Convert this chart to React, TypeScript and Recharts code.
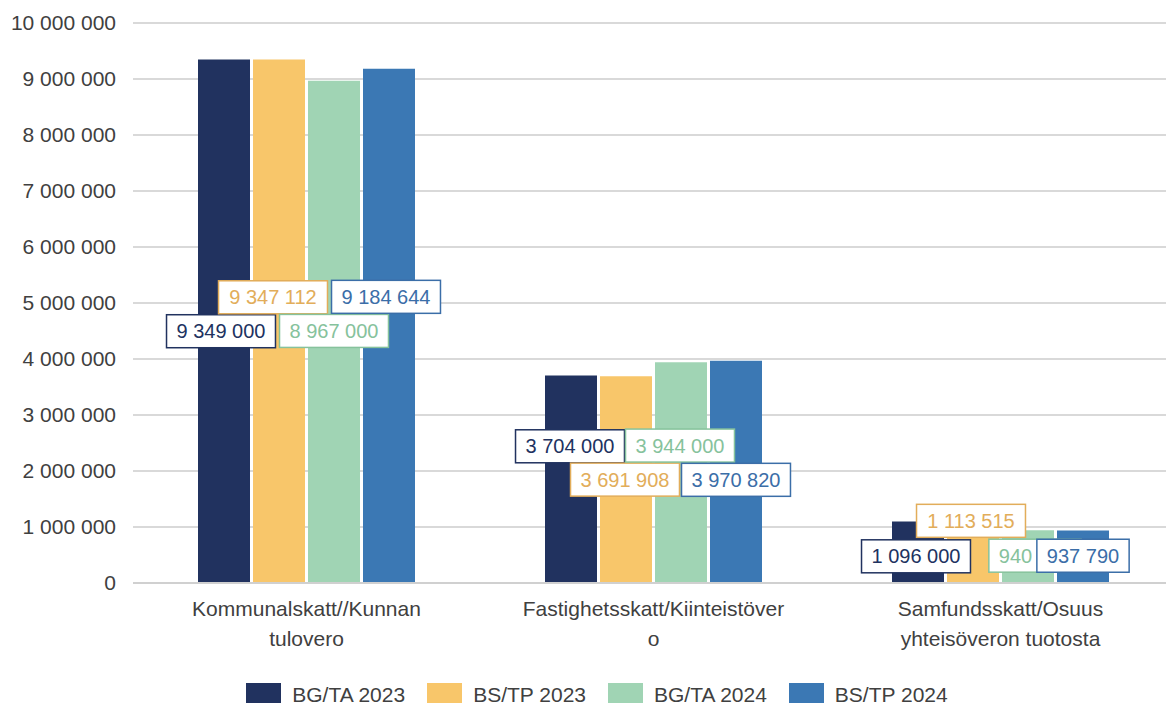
import { Bar, BarChart, CartesianGrid, LabelList, Legend, XAxis, YAxis } from "recharts";

const categories = [
  "Kommunalskatt//Kunnan\ntulovero",
  "Fastighetsskatt/Kiinteistöver\no",
  "Samfundsskatt/Osuus\nyhteisöveron tuotosta",
];
const bgta2023 = [9349000, 3704000, 1096000];
const bstp2023 = [9347112, 3691908, 1113515];
const bgta2024 = [8967000, 3944000, 940000];
const bstp2024 = [9184644, 3970820, 937790];
const yTicks = [0, 1000000, 2000000, 3000000, 4000000, 5000000, 6000000, 7000000, 8000000, 9000000, 10000000];

const series = [
  { key: "bgta2023", name: "BG/TA 2023", color: "#21325f", text: "#21325f" },
  { key: "bstp2023", name: "BS/TP 2023", color: "#f8c66a", text: "#e2ad5a" },
  { key: "bgta2024", name: "BG/TA 2024", color: "#a0d4b4", text: "#86c29c" },
  { key: "bstp2024", name: "BS/TP 2024", color: "#3b78b4", text: "#3b6ea8" },
];

// hand placement of the data label boxes (dx, dy from bar centre), like the original
const labelNudge: Record<string, [number, number][]> = {
  bgta2023: [[-3, 10], [-1, -33], [-2, 4]],
  bstp2023: [[-6, -24], [-1, 0], [-2, -31]],
  bgta2024: [[0, -1], [-1, -27], [7, -1]],
  bstp2024: [[-3, -29], [0, 8], [0, -1]],
};

const data = categories.map((name, i) => ({
  name,
  bgta2023: bgta2023[i],
  bstp2023: bstp2023[i],
  bgta2024: bgta2024[i],
  bstp2024: bstp2024[i],
}));

const FONT = "'Liberation Sans', Arial, sans-serif";
const fmt = (v: number) => String(Math.round(v)).replace(/\B(?=(\d{3})+(?!\d))/g, " ");

function BoxLabel(props: any, key: string, color: string) {
  const { x, y, width, height, value, index } = props;
  const txt = fmt(value);
  const digits = txt.replace(/ /g, "").length;
  const spaces = txt.length - digits;
  const fs = 20;
  const w = digits * 0.556 * fs + spaces * 0.278 * fs + 20;
  const h = 33;
  const [dx, dy] = labelNudge[key][index] || [0, 0];
  const cx = x + width / 2 + dx;
  const cy = y + height / 2 + dy;
  return (
    <g>
      <rect x={cx - w / 2} y={cy - h / 2} width={w} height={h} fill="#fff" stroke={color} strokeWidth={1.5} />
      <text x={cx} y={cy + 7} textAnchor="middle" fontSize={fs} fontFamily={FONT} fill={color}>
        {txt}
      </text>
    </g>
  );
}

function CatTick(props: any) {
  const { x, y, payload } = props;
  const lines = String(payload.value).split("\n");
  return (
    <g>
      {lines.map((l, i) => (
        <text key={i} x={x} y={y + 25 + i * 30} textAnchor="middle" fontSize={21} fontFamily={FONT} fill="#404040">
          {l}
        </text>
      ))}
    </g>
  );
}

function LegendBox() {
  return (
    <div style={{ display: "flex", justifyContent: "center", alignItems: "center", gap: 22, fontFamily: FONT, fontSize: 21, lineHeight: "24px", color: "#404040", paddingTop: 20, paddingLeft: 20 }}>
      {series.map((s) => (
        <div key={s.key} style={{ display: "flex", alignItems: "center", gap: 11 }}>
          <span style={{ display: "inline-block", width: 35, height: 24, background: s.color }} />
          <span>{s.name}</span>
        </div>
      ))}
    </div>
  );
}

export default function App() {
  return (
    <div style={{ margin: -8, background: "#fff" }}>
      <BarChart
        width={1174}
        height={711}
        data={data}
        margin={{ top: 23, right: 0, left: 0, bottom: 0 }}
        barCategoryGap={65}
        barGap={3}
      >
        <CartesianGrid vertical={false} stroke="#d9d9d9" strokeWidth={2} />
        <XAxis dataKey="name" height={80} tick={<CatTick />} tickLine={false} axisLine={{ stroke: "#d0d0d0", strokeWidth: 2 }} interval={0} />
        <YAxis
          width={133}
          domain={[0, 10000000]}
          ticks={yTicks}
          tickFormatter={fmt}
          tickLine={false}
          axisLine={false}
          tickSize={0}
          tickMargin={17}
          tick={{ fontSize: 21, fontFamily: FONT, fill: "#404040" }}
        />
        <Legend verticalAlign="bottom" height={48} wrapperStyle={{ overflow: "visible" }} content={<LegendBox />} />
        {series.map((s) => (
          <Bar key={s.key} dataKey={s.key} name={s.name} fill={s.color} isAnimationActive={false}>
            <LabelList dataKey={s.key} content={(p: any) => BoxLabel(p, s.key, s.text)} />
          </Bar>
        ))}
      </BarChart>
    </div>
  );
}
